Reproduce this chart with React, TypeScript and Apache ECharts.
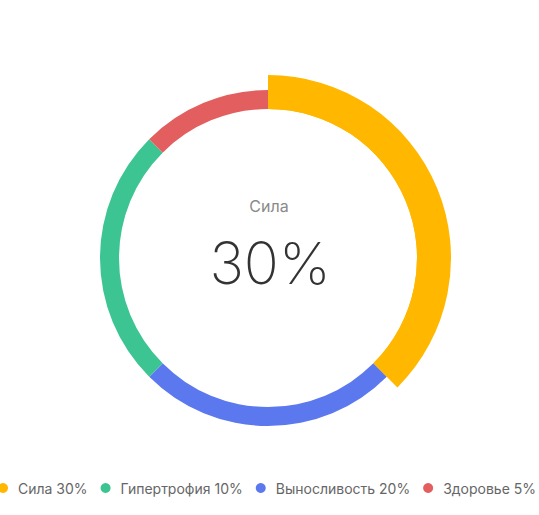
import React, { useEffect, useRef } from "react";
import * as echarts from "echarts";

// Slice names in clockwise drawing order
const sliceNames = ["Сила", "Выносливость", "Гипертрофия", "Здоровье"];
// Slice sizes (arc proportions)
const sliceValues = [30, 20, 20, 10];
const sliceColors = ["#FFB700", "#5C78EF", "#3CC592", "#E35F5F"];

// Legend order and the percentages printed in the legend
const legendNames = ["Сила", "Гипертрофия", "Выносливость", "Здоровье"];
const legendPercents = [30, 10, 20, 5];

const centerTitle = "Сила";
const centerValue = "30%";

export default function App() {
  const ref = useRef<HTMLDivElement>(null);

  useEffect(() => {
    if (!ref.current) return;
    const chart = echarts.init(ref.current, undefined, { renderer: "svg" });
    const font = "Inter, 'Noto Sans', sans-serif";
    const total = sliceValues.reduce((a, b) => a + b, 0);
    const legendMap: Record<string, number> = {};
    legendNames.forEach((n, i) => (legendMap[n] = legendPercents[i]));

    chart.setOption({
      animation: false,
      legend: {
        data: legendNames,
        left: -2,
        width: 700,
        top: 481,
        padding: 0,
        icon: "circle",
        itemWidth: 20,
        itemHeight: 10,
        itemGap: 13,
        textStyle: { color: "#666", fontSize: 14, fontFamily: font },
        formatter: (name: string) => `${name} ${legendMap[name]}%`,
      },
      graphic: [
        {
          type: "text",
          x: 269,
          y: 206,
          style: {
            text: centerTitle,
            fill: "#8a8a8a",
            fontSize: 16,
            fontFamily: font,
            align: "center",
            verticalAlign: "middle",
          },
        },
        {
          type: "text",
          x: 270,
          y: 263,
          style: {
            text: centerValue,
            fill: "#333",
            fontSize: 58,
            fontWeight: 200,
            fontFamily: font,
            align: "center",
            verticalAlign: "middle",
          },
        },
      ],
      series: [
        {
          type: "pie",
          center: [268, 258],
          radius: [149, 168],
          startAngle: 90,
          clockwise: true,
          label: { show: false },
          labelLine: { show: false },
          emphasis: { disabled: true },
          data: sliceNames.map((n, i) => ({
            name: n,
            value: sliceValues[i],
            itemStyle: { color: sliceColors[i] },
          })),
        },
        {
          type: "pie",
          center: [268, 258],
          radius: [149, 183],
          startAngle: 90,
          clockwise: true,
          silent: true,
          label: { show: false },
          labelLine: { show: false },
          emphasis: { disabled: true },
          data: [
            { name: "_big", value: sliceValues[0], itemStyle: { color: sliceColors[0] } },
            { name: "_rest", value: total - sliceValues[0], itemStyle: { color: "rgba(0,0,0,0)" } },
          ],
        },
      ],
    });
    return () => chart.dispose();
  }, []);

  return (
    <div
      ref={ref}
      style={{ position: "absolute", left: 0, top: 0, width: 539, height: 515 }}
    />
  );
}
